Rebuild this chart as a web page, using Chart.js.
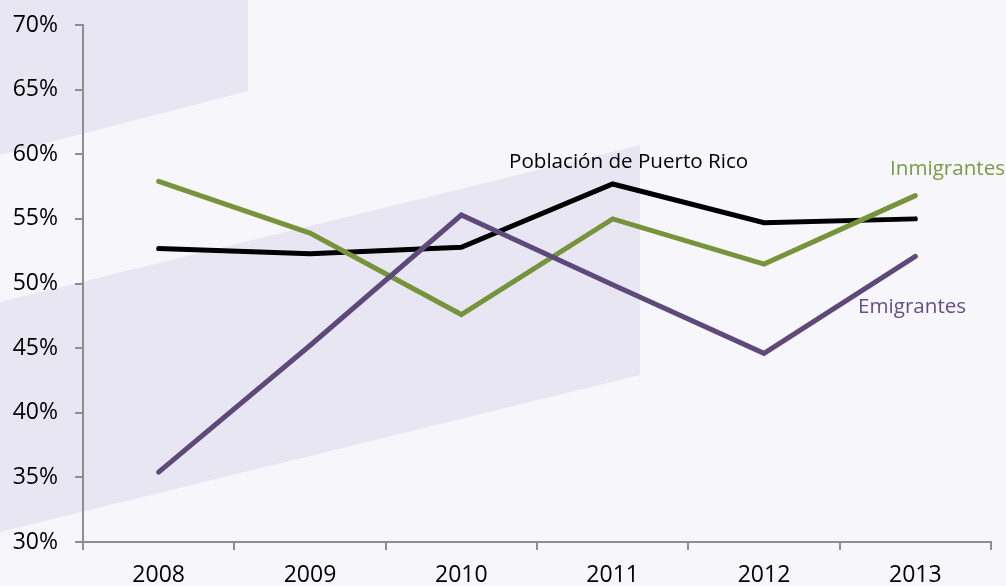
<!DOCTYPE html>
<html>
<head>
<meta charset="utf-8">
<script src="https://cdn.jsdelivr.net/npm/chart.js@4"></script>
<style>
  html, body { margin: 0; padding: 0; background: #f7f6fb; }
  #wrap { width: 1006px; height: 586px; }
</style>
</head>
<body>
<div id="wrap"><canvas id="chart" width="1006" height="586"></canvas></div>
<script>
// Años y porcentajes
const years = ['2008', '2009', '2010', '2011', '2012', '2013'];
const poblacionPR = [52.7, 52.3, 52.8, 57.7, 54.7, 55.0];
const inmigrantes = [57.9, 53.9, 47.6, 55.0, 51.5, 56.8];
const emigrantes = [35.4, 45.2, 55.3, 49.9, 44.6, 52.1];
const yTicks = [30, 35, 40, 45, 50, 55, 60, 65, 70];

const FONT = "'Open Sans', sans-serif";
const AXIS = '#8e8e8e';

// Fondo decorativo (paralelogramos lila)
const fondo = {
    id: 'fondo',
    beforeDraw(chart) {
        const ctx = chart.ctx;
        ctx.save();
        ctx.fillStyle = '#f7f6fb';
        ctx.fillRect(0, 0, chart.width, chart.height);
        ctx.fillStyle = '#e8e6f2';
        ctx.beginPath();
        ctx.moveTo(0, 0); ctx.lineTo(248, 0); ctx.lineTo(248, 91); ctx.lineTo(0, 155);
        ctx.closePath(); ctx.fill();
        ctx.beginPath();
        ctx.moveTo(0, 302); ctx.lineTo(640, 145); ctx.lineTo(640, 375); ctx.lineTo(0, 532);
        ctx.closePath(); ctx.fill();
        ctx.restore();
    }
};

// Etiquetas de las series
const etiquetas = {
    id: 'etiquetas',
    afterDraw(chart) {
        const ctx = chart.ctx;
        ctx.save();
        ctx.font = '20.6px ' + FONT;
        ctx.textBaseline = 'alphabetic';
        ctx.textAlign = 'left';
        ctx.fillStyle = '#000000';
        ctx.fillText('Población de Puerto Rico', 509, 168);
        ctx.fillStyle = '#7a9a45';
        ctx.fillText('Inmigrantes', 890, 175);
        ctx.fillStyle = '#624f82';
        ctx.fillText('Emigrantes', 858, 313);
        ctx.restore();
    }
};

const serie = (data, color) => ({
    data: data,
    borderColor: color,
    backgroundColor: color,
    borderWidth: 5,
    pointRadius: 0,
    tension: 0,
    borderCapStyle: 'round',
    borderJoinStyle: 'miter'
});

new Chart(document.getElementById('chart'), {
    type: 'line',
    data: {
        labels: years,
        datasets: [
            serie(emigrantes, '#5f497a'),
            serie(inmigrantes, '#77933c'),
            serie(poblacionPR, '#000000')
        ]
    },
    options: {
        responsive: false,
        animation: false,
        layout: { padding: { top: 0, right: 15, left: 0, bottom: 0 } },
        plugins: { legend: { display: false }, tooltip: { enabled: false } },
        scales: {
            x: {
                offset: true,
                afterFit: s => { s.height = 44; },
                grid: { offset: true, drawOnChartArea: false, color: AXIS, tickLength: 8, lineWidth: 2 },
                border: { color: AXIS, width: 2 },
                ticks: { color: '#000', font: { family: FONT, size: 23 }, padding: 12, maxRotation: 0 }
            },
            y: {
                min: 30, max: 70,
                afterFit: s => { s.width = 83; s.paddingTop = 25; },
                afterBuildTicks: s => { s.ticks = yTicks.map(v => ({ value: v })); },
                grid: { drawOnChartArea: false, color: AXIS, tickLength: 8, lineWidth: 2 },
                border: { color: AXIS, width: 2 },
                ticks: { color: '#000', font: { family: FONT, size: 23 }, padding: 17, callback: v => v + '%' }
            }
        }
    },
    plugins: [fondo, etiquetas]
});
</script>
</body>
</html>
